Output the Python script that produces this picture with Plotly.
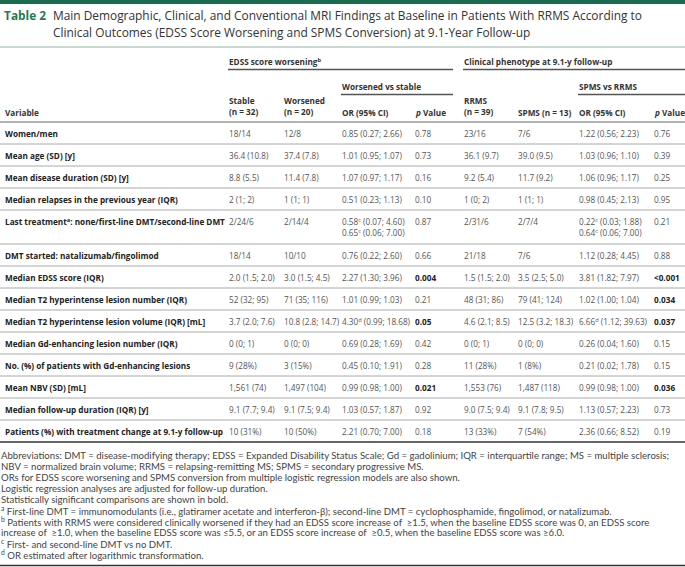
import plotly.graph_objects as go

# ---------------- data ----------------
title_label = "Table 2"
title_lines = [
    "Main Demographic, Clinical, and Conventional MRI Findings at Baseline in Patients With RRMS According to",
    "Clinical Outcomes (EDSS Score Worsening and SPMS Conversion) at 9.1-Year Follow-up",
]
group_headers = ["EDSS score worsening<sup>b</sup>", "Clinical phenotype at 9.1-y follow-up"]
sub_headers = ["Worsened vs stable", "SPMS vs RRMS"]
col_headers = ["Variable", "Stable<br>(n = 32)", "Worsened<br>(n = 20)", "OR (95% CI)", "<i>p</i> Value",
               "RRMS<br>(n = 39)", "SPMS (n = 13)", "OR (95% CI)", "<i>p</i> Value"]

variables = [
    "Women/men",
    "Mean age (SD) [y]",
    "Mean disease duration (SD) [y]",
    "Median relapses in the previous year (IQR)",
    "Last treatment<sup>a</sup>: none/first-line DMT/second-line DMT",
    "DMT started: natalizumab/fingolimod",
    "Median EDSS score (IQR)",
    "Median T2 hyperintense lesion number (IQR)",
    "Median T2 hyperintense lesion volume (IQR) [mL]",
    "Median Gd-enhancing lesion number (IQR)",
    "No. (%) of patients with Gd-enhancing lesions",
    "Mean NBV (SD) [mL]",
    "Median follow-up duration (IQR) [y]",
    "Patients (%) with treatment change at 9.1-y follow-up",
]
stable = ["18/14", "36.4 (10.8)", "8.8 (5.5)", "2 (1; 2)", "2/24/6", "18/14", "2.0 (1.5; 2.0)",
          "52 (32; 95)", "3.7 (2.0; 7.6)", "0 (0; 1)", "9 (28%)", "1,561 (74)", "9.1 (7.7; 9.4)", "10 (31%)"]
worsened = ["12/8", "37.4 (7.8)", "11.4 (7.8)", "1 (1; 1)", "2/14/4", "10/10", "3.0 (1.5; 4.5)",
            "71 (35; 116)", "10.8 (2.8; 14.7)", "0 (0; 0)", "3 (15%)", "1,497 (104)", "9.1 (7.5; 9.4)", "10 (50%)"]
or_worsened = ["0.85 (0.27; 2.66)", "1.01 (0.95; 1.07)", "1.07 (0.97; 1.17)", "0.51 (0.23; 1.13)",
               "0.58<sup>c</sup> (0.07; 4.60)<br>0.65<sup>c</sup> (0.06; 7.00)", "0.76 (0.22; 2.60)",
               "2.27 (1.30; 3.96)", "1.01 (0.99; 1.03)", "4.30<sup>d</sup> (0.99; 18.68)", "0.69 (0.28; 1.69)",
               "0.45 (0.10; 1.91)", "0.99 (0.98; 1.00)", "1.03 (0.57; 1.87)", "2.21 (0.70; 7.00)"]
p_worsened = ["0.78", "0.73", "0.16", "0.10", "0.87", "0.66", "0.004", "0.21", "0.05", "0.42", "0.28",
              "0.021", "0.92", "0.18"]
rrms = ["23/16", "36.1 (9.7)", "9.2 (5.4)", "1 (0; 2)", "2/31/6", "21/18", "1.5 (1.5; 2.0)",
        "48 (31; 86)", "4.6 (2.1; 8.5)", "0 (0; 1)", "11 (28%)", "1,553 (76)", "9.0 (7.5; 9.4)", "13 (33%)"]
spms = ["7/6", "39.0 (9.5)", "11.7 (9.2)", "1 (1; 1)", "2/7/4", "7/6", "3.5 (2.5; 5.0)",
        "79 (41; 124)", "12.5 (3.2; 18.3)", "0 (0; 0)", "1 (8%)", "1,487 (118)", "9.1 (7.8; 9.5)", "7 (54%)"]
or_spms = ["1.22 (0.56; 2.23)", "1.03 (0.96; 1.10)", "1.06 (0.96; 1.17)", "0.98 (0.45; 2.13)",
           "0.22<sup>c</sup> (0.03; 1.88)<br>0.64<sup>c</sup> (0.06; 7.00)", "1.12 (0.28; 4.45)",
           "3.81 (1.82; 7.97)", "1.02 (1.00; 1.04)", "6.66<sup>d</sup> (1.12; 39.63)", "0.26 (0.04; 1.60)",
           "0.21 (0.02; 1.78)", "0.99 (0.98; 1.00)", "1.13 (0.57; 2.23)", "2.36 (0.66; 8.52)"]
p_spms = ["0.76", "0.39", "0.25", "0.95", "0.21", "0.88", "&lt;0.001", "0.034", "0.037", "0.15", "0.15",
          "0.036", "0.73", "0.19"]
significant = [0.05]  # threshold: values at or below are shown bold

footnotes = [
    "Abbreviations: DMT = disease-modifying therapy; EDSS = Expanded Disability Status Scale; Gd = gadolinium; IQR = interquartile range; MS = multiple sclerosis;",
    "NBV = normalized brain volume; RRMS = relapsing-remitting MS; SPMS = secondary progressive MS.",
    "ORs for EDSS score worsening and SPMS conversion from multiple logistic regression models are also shown.",
    "Logistic regression analyses are adjusted for follow-up duration.",
    "Statistically significant comparisons are shown in bold.",
    "<sup>a</sup> First-line DMT = immunomodulants (i.e., glatiramer acetate and interferon-β); second-line DMT = cyclophosphamide, fingolimod, or natalizumab.",
    "<sup>b</sup> Patients with RRMS were considered clinically worsened if they had an EDSS score increase of  ≥1.5, when the baseline EDSS score was 0, an EDSS score",
    "increase of  ≥1.0, when the baseline EDSS score was ≤5.5, or an EDSS score increase of  ≥0.5, when the baseline EDSS score was ≥6.0.",
    "<sup>c</sup> First- and second-line DMT vs no DMT.",
    "<sup>d</sup> OR estimated after logarithmic transformation.",
]

# ---------------- layout constants ----------------
W, H = 685, 567
FONT = "Open Sans"
GREEN = "#1d6b4f"
col_x = [4, 228, 283, 341, 414, 463, 517, 578, 653]
row_h = [22, 22, 22, 22, 34, 22, 22, 22, 22, 22, 22, 22, 22, 22]
header_bottom = 122
BS = 8.2  # body font size

annotations = []
shapes = []


def text(x, y, s, size=BS, color="#555", bold=False, family=FONT, yanchor="middle"):
    if bold:
        s = "<b>" + s + "</b>"
    annotations.append(dict(x=x, y=y, xref="x", yref="y", text=s, showarrow=False,
                            xanchor="left", yanchor=yanchor, align="left", borderpad=0,
                            font=dict(family=family, size=size, color=color)))


def hline(x0, x1, y, color, width):
    shapes.append(dict(type="line", xref="x", yref="y", x0=x0, x1=x1, y0=y, y1=y,
                       line=dict(color=color, width=width)))


# top bar
shapes.append(dict(type="rect", xref="x", yref="y", x0=0, x1=W, y0=0, y1=4,
                   fillcolor=GREEN, line=dict(width=0)))
# title
TS = 11.9
text(3, 15, "<b>" + title_label + "</b>", size=TS, color="#1f7a56")
text(52, 15, title_lines[0], size=TS, color="#333")
text(52, 32, title_lines[1], size=TS, color="#333")
hline(0, W, 47, "#8fb3a3", 1.2)

# group headers
HC = "#333"
text(col_x[1], 61, group_headers[0], color=HC, bold=True)
text(col_x[5], 61, group_headers[1], color=HC, bold=True)
hline(col_x[1], 453, 69.5, "#555", 1.5)
hline(col_x[5], W, 69.5, "#555", 1.5)
text(col_x[3], 86, sub_headers[0], color=HC, bold=True)
text(col_x[7], 86, sub_headers[1], color=HC, bold=True)
hline(col_x[3], 453, 94.5, "#555", 1.5)
hline(col_x[7], W, 94.5, "#555", 1.5)

for i, h in enumerate(col_headers):
    if "<br>" in h:
        text(col_x[i], 106, h, color=HC, bold=True)
    else:
        text(col_x[i], 112, h, color=HC, bold=True)
hline(0, W, header_bottom, "#666", 1.2)

# body rows
columns = [stable, worsened, or_worsened, p_worsened, rrms, spms, or_spms, p_spms]


def is_sig(v):
    v = v.replace("&lt;", "")
    try:
        return float(v) <= significant[0]
    except ValueError:
        return False


top = header_bottom
for r, lab in enumerate(variables):
    h = row_h[r]
    if h > 22:
        cy = top + 5
        ya = "top"
    else:
        cy = top + h / 2
        ya = "middle"
    text(col_x[0], cy, lab, color="#222", bold=True, yanchor=ya)
    for c, col in enumerate(columns):
        v = col[r]
        bold = c in (3, 7) and is_sig(v)
        text(col_x[c + 1], cy, v, color="#222" if bold else "#555", bold=bold, yanchor=ya)
    top += h
    if r < len(variables) - 1:
        hline(0, W, top, "#aaa", 1)
    else:
        hline(0, W, top, "#333", 1.5)

# footnotes
fy = 455
for i, f in enumerate(footnotes):
    text(0, fy + i * 11.1, f, size=9.6, color="#444", family="Lato, Open Sans")
hline(0, W, 565.5, "#333", 1.5)

fig = go.Figure()
fig.update_layout(
    width=W, height=H, margin=dict(l=0, r=0, t=0, b=0),
    paper_bgcolor="white", plot_bgcolor="white",
    xaxis=dict(range=[0, W], visible=False, fixedrange=True),
    yaxis=dict(range=[H, 0], visible=False, fixedrange=True),
    annotations=annotations, shapes=shapes, showlegend=False,
)
fig.write_html("out.html", config={"displayModeBar": False},
               post_script="document.body.style.margin='0';document.body.style.overflow='hidden';")
